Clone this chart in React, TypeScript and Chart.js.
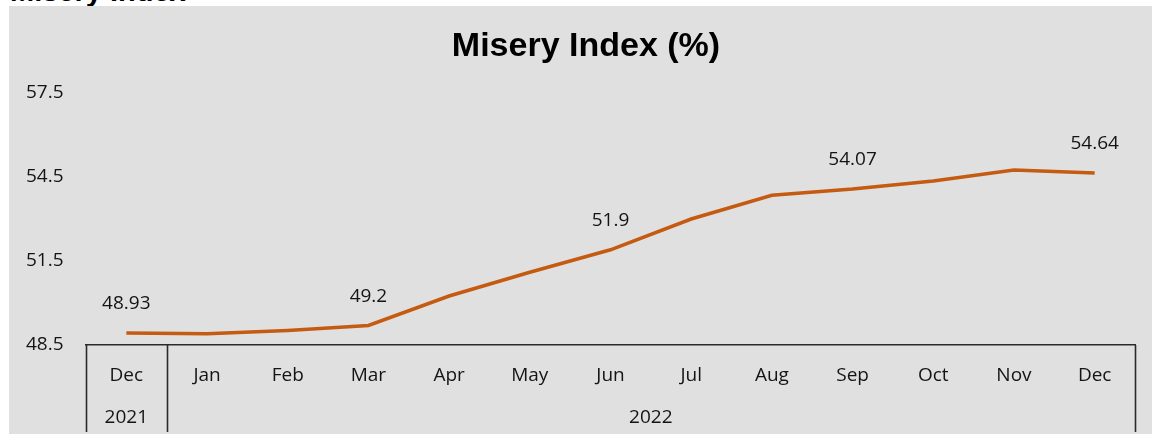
import React, { useEffect, useRef } from "react";
import { Chart, registerables } from "chart.js";

Chart.register(...registerables);

const months = ["Dec", "Jan", "Feb", "Mar", "Apr", "May", "Jun", "Jul", "Aug", "Sep", "Oct", "Nov", "Dec"];
const years = ["2021", "2022"];
const yearSpans = [1, 12];
const values = [48.93, 48.9, 49.02, 49.2, 50.25, 51.1, 51.9, 53.0, 53.85, 54.07, 54.36, 54.75, 54.64];
const labelIdx = [0, 3, 6, 9, 12];
const yTicks = [48.5, 51.5, 54.5, 57.5];
const chartTitle = "Misery Index (%)";
const cutHeading = "Misery Index";

const FONT = "'Open Sans', sans-serif";
const INK = "#141414";

const decorPlugin = {
  id: "decor",
  afterDraw(chart: any) {
    const ctx = chart.ctx;
    const xs = chart.scales.x;
    const meta = chart.getDatasetMeta(0);
    const half = (xs.getPixelForValue(1) - xs.getPixelForValue(0)) / 2;
    ctx.save();
    // title
    ctx.fillStyle = "#000";
    ctx.font = "bold 34px 'Liberation Sans', Arial, sans-serif";
    ctx.textAlign = "center";
    ctx.textBaseline = "middle";
    ctx.fillText(chartTitle, 586, 47);
    // axis frame separators
    ctx.strokeStyle = "#2a2a2a";
    ctx.lineWidth = 1.6;
    let start = 0;
    const bounds: number[] = [0];
    yearSpans.forEach((s) => {
      start += s;
      bounds.push(start);
    });
    bounds.forEach((b) => {
      const x = Math.round(xs.getPixelForValue(b) - half) + 0.5;
      ctx.beginPath();
      ctx.moveTo(x, xs.top);
      ctx.lineTo(x, 432);
      ctx.stroke();
    });
    // year labels
    ctx.font = `19px ${FONT}`;
    ctx.fillStyle = INK;
    ctx.textAlign = "center";
    ctx.textBaseline = "middle";
    let s0 = 0;
    years.forEach((y, i) => {
      const a = xs.getPixelForValue(s0) - half;
      const b = xs.getPixelForValue(s0 + yearSpans[i] - 1) + half;
      ctx.fillText(y, (a + b) / 2, 418);
      s0 += yearSpans[i];
    });
    // data labels
    labelIdx.forEach((i) => {
      const p = meta.data[i];
      ctx.fillText(String(values[i]), p.x, p.y - 29);
    });
    ctx.restore();
  },
};

export default function App() {
  const ref = useRef<HTMLCanvasElement | null>(null);
  useEffect(() => {
    if (!ref.current) return;
    const chart = new Chart(ref.current, {
      type: "line",
      data: {
        labels: months,
        datasets: [
          {
            data: values,
            borderColor: "#c55a11",
            borderWidth: 3.5,
            pointRadius: 0,
            tension: 0,
            fill: false,
          },
        ],
      },
      options: {
        animation: false,
        responsive: false,
        devicePixelRatio: 1,
        layout: { padding: { left: 26, right: 17, top: 93, bottom: 0 } },
        plugins: { legend: { display: false }, title: { display: false }, tooltip: { enabled: false } },
        scales: {
          x: {
            type: "category",
            offset: true,
            grid: { display: false, drawTicks: false },
            border: { display: true, color: "#2a2a2a", width: 1.6 },
            ticks: { font: { family: FONT, size: 19 }, color: INK, padding: 19, maxRotation: 0, autoSkip: false },
            afterFit(scale: any) {
              scale.height = 89;
            },
          },
          y: {
            min: 48.5,
            max: 57.5,
            grid: { display: false, drawTicks: false },
            border: { display: false },
            ticks: { font: { family: FONT, size: 19 }, color: INK, crossAlign: "far", padding: 0 },
            afterBuildTicks(scale: any) {
              scale.ticks = yTicks.map((v) => ({ value: v }));
            },
            afterFit(scale: any) {
              scale.width = 60;
            },
          },
        },
      },
      plugins: [decorPlugin],
    } as any);
    return () => chart.destroy();
  }, []);

  return (
    <div style={{ position: "absolute", left: 0, top: 0, width: 1152, height: 434, background: "#fff", overflow: "hidden" }}>
      <div
        style={{
          position: "absolute",
          left: 10,
          top: -23,
          fontFamily: "'Liberation Sans', Arial, sans-serif",
          fontWeight: "bold",
          fontSize: 29,
          lineHeight: "29px",
          color: "#000",
          whiteSpace: "nowrap",
        }}
      >
        {cutHeading}
      </div>
      <div style={{ position: "absolute", left: 9, top: 6, width: 1143, height: 428, background: "#e0e0e0" }} />
      <canvas ref={ref} width={1152} height={434} style={{ position: "absolute", left: 0, top: 0, width: 1152, height: 434 }} />
    </div>
  );
}
